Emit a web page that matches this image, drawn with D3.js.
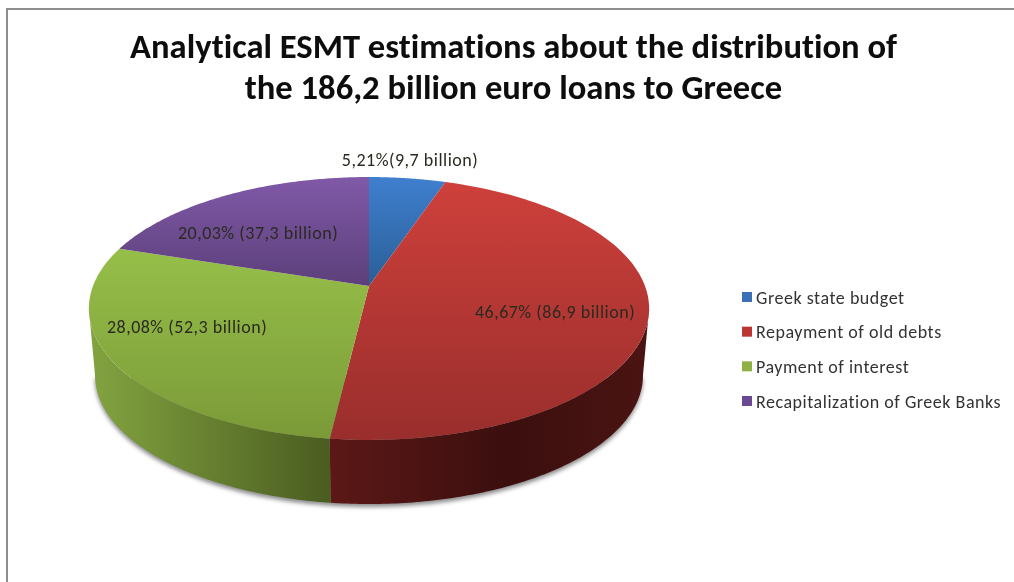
<!DOCTYPE html>
<html><head><meta charset="utf-8">
<script src="https://cdnjs.cloudflare.com/ajax/libs/d3/7.8.5/d3.min.js"></script>
<style>html,body{margin:0;padding:0;background:#fff}svg{display:block}text{font-variant-ligatures:none}</style>
</head><body><svg id="c" width="1014" height="582"></svg>
<script>
const categories = ["Greek state budget","Repayment of old debts","Payment of interest","Recapitalization of Greek Banks"];
const shares = [5.21,46.67,28.08,20.03];
const labels = ["5,21%(9,7 billion)","46,67% (86,9 billion)","28,08% (52,3 billion)","20,03% (37,3 billion)"];
const titleLines = ["Analytical ESMT estimations about the distribution of","the 186,2 billion euro loans to Greece"];
const topColors = [["#3f7fce","#2a5f96"],["#ce403b","#992e2c"],["#96bf49","#7b9a38"],["#8059a8","#5c3f7a"]];
const legendColors = ["#3a70b5","#bb3633","#8fb045","#6b4a94"];
const sideStops = [null,[["#5c1817",0],["#3b0f0e",.55],["#4a1412",1]],[["#83a440",0],["#4a5c20",1]],null];
const labelPos = [[410,159],[555,311],[187,326],[258,232]];

const svg = d3.select("#c");
const defs = svg.append("defs");
defs.append("filter").attr("id","soft").attr("x","-10%").attr("y","-10%").attr("width","120%").attr("height","120%")
  .append("feGaussianBlur").attr("stdDeviation",2.2);
defs.append("filter").attr("id","txt").append("feGaussianBlur").attr("stdDeviation",0.35);

// frame
svg.append("path").attr("d","M7,582V9H1014").attr("fill","none").attr("stroke","#8e8e8e").attr("stroke-width",2);

// pie geometry: a circle seen in perspective
const pieGen = d3.pie().sort(null).value(d=>d);
const arcs = pieGen(shares);
const cx=369, K=276, persp=0.171, apexY=286, tilt=-78.7;
const base = d3.scaleLinear().domain([0,1]).range([0,1]);
function topPt(t,r=1){
  const X=Math.sin(t)*r, Y=Math.cos(t)*r, w=persp*Y+1;
  return [cx+K*X/w,(tilt*Y+apexY)/w];
}
const ellipseCy=308, bottomScale=0.978, depth=67;
function botPt(t){
  const p=topPt(t);
  return [cx+(p[0]-cx)*bottomScale, ellipseCy+(p[1]-ellipseCy)*bottomScale+depth];
}
const line=d3.line();
const samples=(a,b)=>d3.range(0,121).map(i=>a+(b-a)*base(i/120));

// side range: the rim between the two horizontal extremes of the ellipse
const frontStart=Math.acos(-persp), frontEnd=2*Math.PI-Math.acos(-persp);

// shadow
svg.append("path").attr("d",line(samples(frontStart,frontEnd).map(botPt).map(p=>[p[0],p[1]+3]))+"Z")
  .attr("fill","#8a8a8a").attr("filter","url(#soft)");

// side walls
arcs.forEach((a,i)=>{
  const s=Math.max(a.startAngle,frontStart), e=Math.min(a.endAngle,frontEnd);
  if(e<=s) return;
  const ts=samples(s,e);
  const pts=ts.map(t=>topPt(t)).concat(ts.slice().reverse().map(botPt));
  const id="side"+i;
  const g=defs.append("linearGradient").attr("id",id);
  sideStops[i].forEach(st=>g.append("stop").attr("offset",st[1]).attr("stop-color",st[0]));
  svg.append("path").attr("d",line(pts)+"Z").attr("fill",`url(#${id})`);
});

// top faces
arcs.forEach((a,i)=>{
  const id="top"+i;
  const g=defs.append("linearGradient").attr("id",id).attr("x1",0).attr("y1",0).attr("x2",0).attr("y2",1);
  g.append("stop").attr("offset",0).attr("stop-color",topColors[i][0]);
  g.append("stop").attr("offset",1).attr("stop-color",topColors[i][1]);
  const pts=[topPt(0,0)].concat(samples(a.startAngle,a.endAngle).map(t=>topPt(t)));
  svg.append("path").attr("d",line(pts)+"Z").attr("fill",`url(#${id})`);
});

const FONT="Carlito, Lato, sans-serif";
// title
svg.append("g").selectAll("text").data(titleLines).join("text")
  .attr("x",513.5).attr("y",(d,i)=>58+i*41).attr("text-anchor","middle")
  .attr("font-family",FONT).attr("font-weight",700).attr("font-size",34.6).attr("fill","#0a0a0a")
  .attr("filter","url(#txt)").text(d=>d);

// data labels
svg.append("g").selectAll("text").data(labels).join("text")
  .attr("x",(d,i)=>labelPos[i][0]).attr("y",(d,i)=>labelPos[i][1]+6.5).attr("text-anchor","middle")
  .attr("font-family",FONT).attr("font-size",18).attr("letter-spacing",0.5).attr("fill","#2a2a20").attr("filter","url(#txt)").text(d=>d);

// legend
const ly=d3.scalePoint().domain(categories).range([297,401]);
const lg=svg.append("g").selectAll("g").data(categories).join("g").attr("transform",d=>`translate(742,${ly(d)})`);
lg.append("rect").attr("x",0).attr("y",-5).attr("width",10).attr("height",10).attr("fill",(d,i)=>legendColors[i]);
lg.append("text").attr("x",14).attr("y",6.5).attr("font-family",FONT).attr("font-size",18).attr("letter-spacing",0.53).attr("fill","#333").attr("filter","url(#txt)").text(d=>d);
</script></body></html>
